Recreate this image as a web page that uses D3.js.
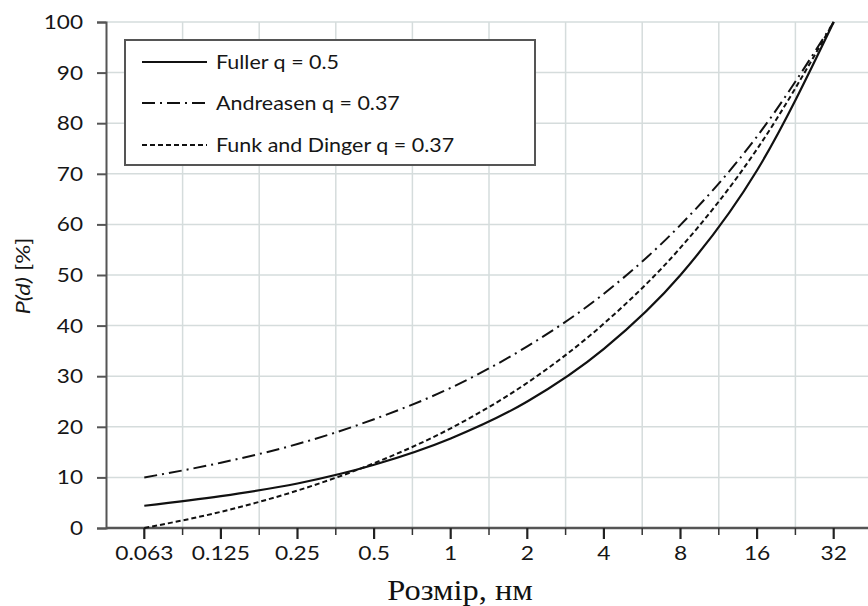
<!DOCTYPE html>
<html>
<head>
<meta charset="utf-8">
<script src="https://cdn.jsdelivr.net/npm/d3@7"></script>
<style>
  html, body { margin: 0; padding: 0; background: #fff; }
  svg { display: block; }
</style>
</head>
<body>
<svg id="chart" width="868" height="606"></svg>
<script>
// Particle sizes (log2 steps) and cumulative passing P(d), %
const sizes = ["0.063", "0.125", "0.25", "0.5", "1", "2", "4", "8", "16", "32"];
const fuller = [4.4, 6.3, 8.8, 12.5, 17.7, 25.0, 35.4, 50.0, 70.7, 100];
const andreasen = [10.0, 12.9, 16.6, 21.5, 27.7, 35.9, 46.3, 59.9, 77.4, 100];
const funkDinger = [0.0, 3.2, 7.4, 12.8, 19.7, 28.7, 40.4, 55.4, 74.9, 100];
const yTicks = [0, 10, 20, 30, 40, 50, 60, 70, 80, 90, 100];

const seriesList = [
  { name: "Fuller q = 0.5", values: fuller, dash: null, width: 2.2 },
  { name: "Andreasen q = 0.37", values: andreasen, dash: "13,5,2,5", width: 2 },
  { name: "Funk and Dinger q = 0.37", values: funkDinger, dash: "5,3", width: 2 }
];

const svg = d3.select("#chart");
const plotLeft = 106, plotRight = 872, plotTop = 22, plotBottom = 528;
const sansFont = "Lato, 'Open Sans', sans-serif";
const textColor = "#161616";
const stretch = 1.13; // text is set slightly wide

const x = d3.scaleBand().domain(sizes).range([plotLeft, plotRight]).padding(0);
const xc = d => x(d) + x.bandwidth() / 2;
const y = d3.scaleLinear().domain([0, 100]).range([plotBottom, plotTop]);

const gridColor = "#d5dcdc";

// horizontally widened text placed at (px, py)
function wideText(parent, px, py, str, size, anchor, sx) {
  return parent.append("text")
    .attr("transform", `translate(${px},${py}) scale(${sx || stretch},1)`)
    .attr("text-anchor", anchor)
    .attr("font-family", sansFont).attr("font-size", size).attr("fill", textColor)
    .text(str);
}

// horizontal gridlines
svg.append("g").selectAll("line").data(yTicks.filter(t => t > 0)).join("line")
  .attr("x1", plotLeft).attr("x2", 868)
  .attr("y1", d => y(d)).attr("y2", d => y(d))
  .attr("stroke", gridColor).attr("stroke-width", 1.5);

// vertical gridlines on category boundaries
const boundaries = sizes.slice(1).map(s => x(s));
svg.append("g").selectAll("line").data(boundaries).join("line")
  .attr("x1", d => d).attr("x2", d => d)
  .attr("y1", plotTop).attr("y2", plotBottom)
  .attr("stroke", gridColor).attr("stroke-width", 1.5);

// y axis
const yAxis = svg.append("g").attr("transform", `translate(${plotLeft},0)`)
  .call(d3.axisLeft(y).tickValues(yTicks).tickSize(9).tickFormat(""));
yAxis.select(".domain").attr("stroke", "#555").attr("stroke-width", 2);
yAxis.selectAll(".tick line").attr("stroke", "#555").attr("stroke-width", 2);
const yLabels = svg.append("g");
yTicks.forEach(t => wideText(yLabels, 83, y(t) + 7, String(t), 20, "end"));

// x axis: major ticks at category centres, minor ticks at boundaries
const xAxis = svg.append("g").attr("transform", `translate(0,${plotBottom})`);
xAxis.append("line").attr("x1", plotLeft).attr("x2", 868).attr("y1", 0).attr("y2", 0)
  .attr("stroke", "#555").attr("stroke-width", 2.5);
xAxis.selectAll("line.major").data(sizes).join("line").attr("class", "major")
  .attr("x1", d => xc(d)).attr("x2", d => xc(d)).attr("y1", 0).attr("y2", 11)
  .attr("stroke", "#222").attr("stroke-width", 2.2);
xAxis.selectAll("line.minor").data(boundaries).join("line").attr("class", "minor")
  .attr("x1", d => d).attr("x2", d => d).attr("y1", 0).attr("y2", 7)
  .attr("stroke", "#333").attr("stroke-width", 1.5);
sizes.forEach(s => wideText(xAxis, xc(s), 32, s, 19, "middle", 1.2));

// axis titles
svg.append("text")
  .attr("transform", "translate(460,600) scale(1.08,1)")
  .attr("text-anchor", "middle")
  .attr("font-family", "'Liberation Serif', 'Times New Roman', serif")
  .attr("font-size", 30).attr("fill", "#111").text("Розмір, нм");

const yTitle = svg.append("text")
  .attr("transform", "translate(30,276) rotate(-90) scale(1.25,1)")
  .attr("text-anchor", "middle")
  .attr("font-family", sansFont).attr("font-size", 19).attr("fill", textColor);
yTitle.append("tspan").attr("font-style", "italic").text("P(d)");
yTitle.append("tspan").text(" [%]");

// curves
const line = d3.line()
  .x((v, i) => xc(sizes[i]))
  .y(v => y(v))
  .curve(d3.curveMonotoneX);

svg.append("g").selectAll("path").data(seriesList).join("path")
  .attr("d", s => line(s.values))
  .attr("fill", "none").attr("stroke", "#111")
  .attr("stroke-width", s => s.width)
  .attr("stroke-dasharray", s => s.dash);

// legend
const legend = svg.append("g");
legend.append("rect").attr("x", 125).attr("y", 40).attr("width", 410).attr("height", 125)
  .attr("fill", "#fff").attr("stroke", "#555").attr("stroke-width", 2);
const rowsY = [62, 103, 145];
seriesList.forEach((s, i) => {
  legend.append("line").attr("x1", 142).attr("x2", 207)
    .attr("y1", rowsY[i]).attr("y2", rowsY[i])
    .attr("stroke", "#111").attr("stroke-width", s.width)
    .attr("stroke-dasharray", s.dash);
  wideText(legend, 216, rowsY[i] + 7, s.name, 19, "start");
});
</script>
</body>
</html>
